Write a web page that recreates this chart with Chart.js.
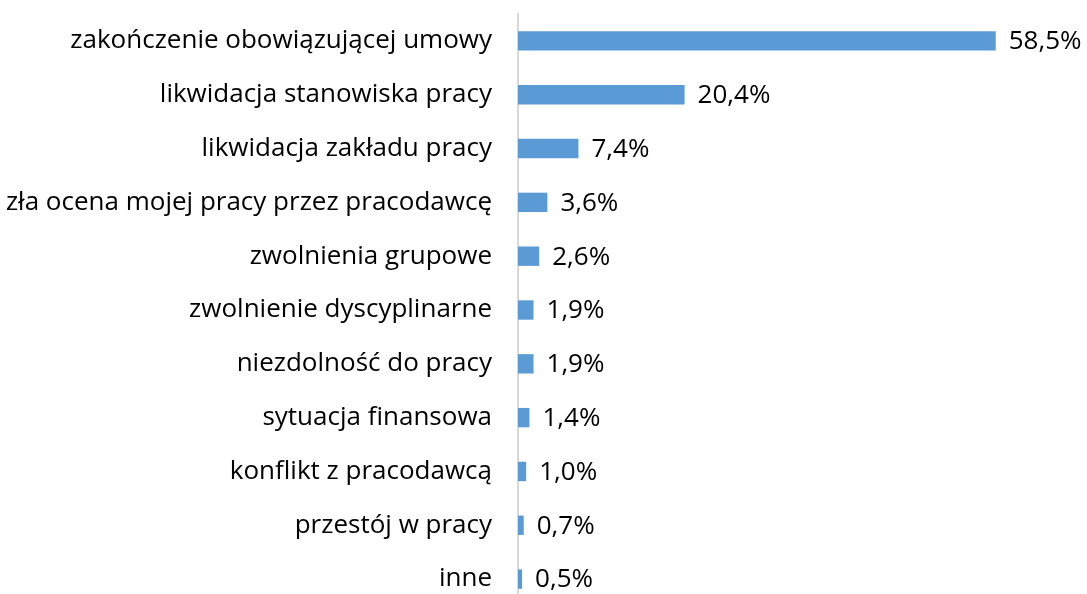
<!DOCTYPE html>
<html>
<head>
<meta charset="utf-8">
<script src="https://cdn.jsdelivr.net/npm/chart.js@4/dist/chart.umd.min.js"></script>
<style>
  html, body { margin: 0; padding: 0; background: #fff; overflow: hidden; }
  #wrap { position: relative; width: 1087px; height: 606px; }
</style>
</head>
<body>
<div id="wrap"><canvas id="chart"></canvas></div>
<script>
// Reasons for job loss (share of answers, %)
const categories = [
  'zakończenie obowiązującej umowy',
  'likwidacja stanowiska pracy',
  'likwidacja zakładu pracy',
  'zła ocena mojej pracy przez pracodawcę',
  'zwolnienia grupowe',
  'zwolnienie dyscyplinarne',
  'niezdolność do pracy',
  'sytuacja finansowa',
  'konflikt z pracodawcą',
  'przestój w pracy',
  'inne'
];
const shares = [58.5, 20.4, 7.4, 3.6, 2.6, 1.9, 1.9, 1.4, 1.0, 0.7, 0.5];

const FONT = '"Open Sans", Lato, sans-serif';
const FONT_SIZE = 26;

// value labels drawn right of each bar, Polish decimal comma
const valueLabels = {
  id: 'valueLabels',
  afterDatasetsDraw(chart) {
    const ctx = chart.ctx;
    const meta = chart.getDatasetMeta(0);
    ctx.save();
    ctx.font = FONT_SIZE + 'px ' + FONT;
    ctx.fillStyle = '#000';
    ctx.textAlign = 'left';
    ctx.textBaseline = 'middle';
    meta.data.forEach((bar, i) => {
      const txt = shares[i].toFixed(1).replace('.', ',') + '%';
      ctx.fillText(txt, bar.x + 13, bar.y + 1);
    });
    ctx.restore();
  }
};

new Chart(document.getElementById('chart').getContext('2d'), {
  type: 'bar',
  data: {
    labels: categories,
    datasets: [{
      data: shares,
      backgroundColor: '#5b9bd5',
      borderWidth: 0,
      categoryPercentage: 1,
      barPercentage: 0.36
    }]
  },
  options: {
    indexAxis: 'y',
    responsive: true,
    maintainAspectRatio: false,
    animation: false,
    layout: { padding: { top: 14, right: 79, bottom: 0, left: 0 } },
    plugins: {
      legend: { display: false },
      tooltip: { enabled: false }
    },
    scales: {
      x: {
        display: false,
        min: 0,
        max: 60
      },
      y: {
        grid: { display: false, drawTicks: false },
        border: { display: true, color: '#d9d9d9', width: 2 },
        ticks: {
          color: '#000',
          padding: 26,
          font: { family: FONT, size: FONT_SIZE }
        },
        afterFit(scale) {
          scale.width = 518;
          // no extra room for half label heights at the ends
          scale.paddingTop = 0;
          scale.paddingBottom = 0;
        }
      }
    }
  },
  plugins: [valueLabels]
});
</script>
</body>
</html>
